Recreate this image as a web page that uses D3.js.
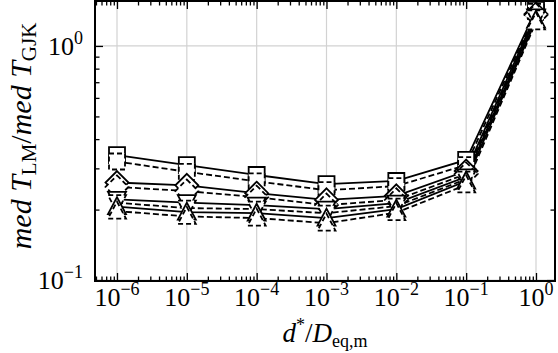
<!DOCTYPE html>
<html>
<head>
<meta charset="utf-8">
<script src="https://cdn.jsdelivr.net/npm/d3@7"></script>
<style>
body{margin:0;background:#fff;}
svg text{font-family:"Liberation Serif","DejaVu Serif",serif;fill:#000;}
</style>
</head>
<body>
<div id="chart"></div>
<script>
// x values (d*/D_eq,m)
let xVals=[1e-6,1e-5,1e-4,1e-3,1e-2,1e-1,1];
// median time ratios, one array per curve
let sqSolid=[0.342,0.310,0.281,0.257,0.265,0.326,1.425];
let sqDash=[0.321,0.290,0.264,0.242,0.252,0.310,1.397];
let diaSolid=[0.261,0.254,0.235,0.220,0.229,0.292,1.370];
let diaDash=[0.250,0.240,0.226,0.209,0.220,0.284,1.356];
let tdSolid=[0.221,0.214,0.209,0.201,0.213,0.276,1.330];
let tdDash=[0.214,0.203,0.201,0.193,0.207,0.270,1.317];
let tuSolid=[0.206,0.195,0.193,0.184,0.201,0.265,1.290];
let tuDash=[0.197,0.187,0.184,0.175,0.194,0.255,1.266];
let xTickExp=[-6,-5,-4,-3,-2,-1,0];
let yTickExp=[-1,0];

let series=[
  {v:sqSolid,m:"square",dash:false},
  {v:sqDash,m:"square",dash:true},
  {v:diaSolid,m:"diamond",dash:false},
  {v:diaDash,m:"diamond",dash:true},
  {v:tdSolid,m:"tdown",dash:false},
  {v:tdDash,m:"tdown",dash:true},
  {v:tuSolid,m:"tup",dash:false},
  {v:tuDash,m:"tup",dash:true}
];

let W=558,H=353;
let margin={top:1,right:3,bottom:72,left:95},
    width=W-margin.left-margin.right,
    height=H-margin.top-margin.bottom;

let svg=d3.select("#chart").append("svg")
  .attr("width",W).attr("height",H);
let g=svg.append("g")
  .attr("transform","translate("+margin.left+","+margin.top+")");

let x=d3.scaleLog()
  .domain([Math.pow(10,-6.315),Math.pow(10,0.272)])
  .range([0,width]);
let y=d3.scaleLog()
  .domain([Math.pow(10,-1.004),Math.pow(10,0.192)])
  .range([height,0]);

// grid
g.selectAll(".vgrid").data(xTickExp).enter().append("line")
  .attr("x1",d=>x(Math.pow(10,d))).attr("x2",d=>x(Math.pow(10,d)))
  .attr("y1",0).attr("y2",height)
  .attr("stroke","#d2d2d2").attr("stroke-width",1.2);
g.selectAll(".hgrid").data(yTickExp).enter().append("line")
  .attr("x1",0).attr("x2",width)
  .attr("y1",d=>y(Math.pow(10,d))).attr("y2",d=>y(Math.pow(10,d)))
  .attr("stroke","#d2d2d2").attr("stroke-width",1.2);

// ticks (inward, all four sides)
let xMinor=[],yMinor=[];
for(let e=-7;e<=0;e++){for(let k=2;k<10;k++){let v=k*Math.pow(10,e);
  if(v>x.domain()[0]&&v<x.domain()[1])xMinor.push(v);
  if(v>y.domain()[0]&&v<y.domain()[1])yMinor.push(v);}}
let xMajor=xTickExp.map(e=>Math.pow(10,e));
let yMajor=yTickExp.map(e=>Math.pow(10,e));

function xt(vals,len){
  g.append("g").attr("transform","translate(0,"+height+")")
    .call(d3.axisBottom(x).tickValues(vals).tickSizeInner(-len).tickSizeOuter(0).tickFormat(""));
  g.append("g")
    .call(d3.axisTop(x).tickValues(vals).tickSizeInner(-len).tickSizeOuter(0).tickFormat(""));
}
function yt(vals,len){
  g.append("g")
    .call(d3.axisLeft(y).tickValues(vals).tickSizeInner(-len).tickSizeOuter(0).tickFormat(""));
  g.append("g").attr("transform","translate("+width+",0)")
    .call(d3.axisRight(y).tickValues(vals).tickSizeInner(-len).tickSizeOuter(0).tickFormat(""));
}
xt(xMajor,8);xt(xMinor,4.5);yt(yMajor,8);yt(yMinor,4.5);
g.selectAll(".domain").remove();
g.selectAll(".tick line").attr("stroke","#000").attr("stroke-width",1.3);

// curves
let line=d3.line().x((d,i)=>x(xVals[i])).y(d=>y(d));
function markerPath(m){
  if(m=="square")return d3.symbol().type(d3.symbolSquare).size(256)();
  if(m=="diamond")return "M0,-11.5L11.5,0L0,11.5L-11.5,0Z";
  if(m=="tup")return "M0,-9.5L9,7.5L-9,7.5Z";
  return "M0,9.5L9,-7.5L-9,-7.5Z";
}
series.forEach(s=>{
  g.append("path").datum(s.v)
    .attr("d",line).attr("fill","none")
    .attr("stroke","#000").attr("stroke-width",1.8)
    .attr("stroke-dasharray",s.dash?"6,3":null);
});
series.forEach(s=>{
  g.selectAll(null).data(s.v).enter().append("path")
    .attr("d",markerPath(s.m))
    .attr("transform",(d,i)=>"translate("+x(xVals[i])+","+y(d)+")")
    .attr("fill","#fff").attr("stroke","#000").attr("stroke-width",1.8)
    .attr("stroke-dasharray",s.dash?"5,3":null);
});

// frame
g.append("rect").attr("width",width).attr("height",height)
  .attr("fill","none").attr("stroke","#000").attr("stroke-width",2);

// tick labels
xTickExp.forEach(e=>{
  let t=g.append("text").attr("x",x(Math.pow(10,e))).attr("y",height+25)
    .attr("text-anchor","middle").style("font-size","26px");
  t.append("tspan").text("10");
  t.append("tspan").attr("dy",-11).style("font-size","18px").text(e==0?"0":"\u2212"+(-e));
});
yTickExp.forEach(e=>{
  let t=g.append("text").attr("x",-12).attr("y",y(Math.pow(10,e))+9)
    .attr("text-anchor","end").style("font-size","26px");
  t.append("tspan").text("10");
  t.append("tspan").attr("dy",-11).style("font-size","18px").text(e==0?"0":"\u2212"+(-e));
});

// axis titles
let xl=svg.append("text").attr("x",margin.left+width/2).attr("y",342)
  .attr("text-anchor","middle").style("font-size","27px");
xl.append("tspan").style("font-style","italic").text("d");
xl.append("tspan").attr("dy",-11).style("font-size","18px").text("*");
xl.append("tspan").attr("dy",11).text("/");
xl.append("tspan").style("font-style","italic").text("D");
xl.append("tspan").attr("dy",5).style("font-size","18px").text("eq,m");

let yl=svg.append("text")
  .attr("transform","translate(31,"+(margin.top+height/2-5)+") rotate(-90)")
  .attr("text-anchor","middle").style("font-size","30px");
yl.append("tspan").style("font-style","italic").text("med T");
yl.append("tspan").attr("dy",5).style("font-size","21px").text("LM");
yl.append("tspan").attr("dy",-5).text("/");
yl.append("tspan").style("font-style","italic").text("med T");
yl.append("tspan").attr("dy",5).style("font-size","21px").text("GJK");
</script>
</body>
</html>
